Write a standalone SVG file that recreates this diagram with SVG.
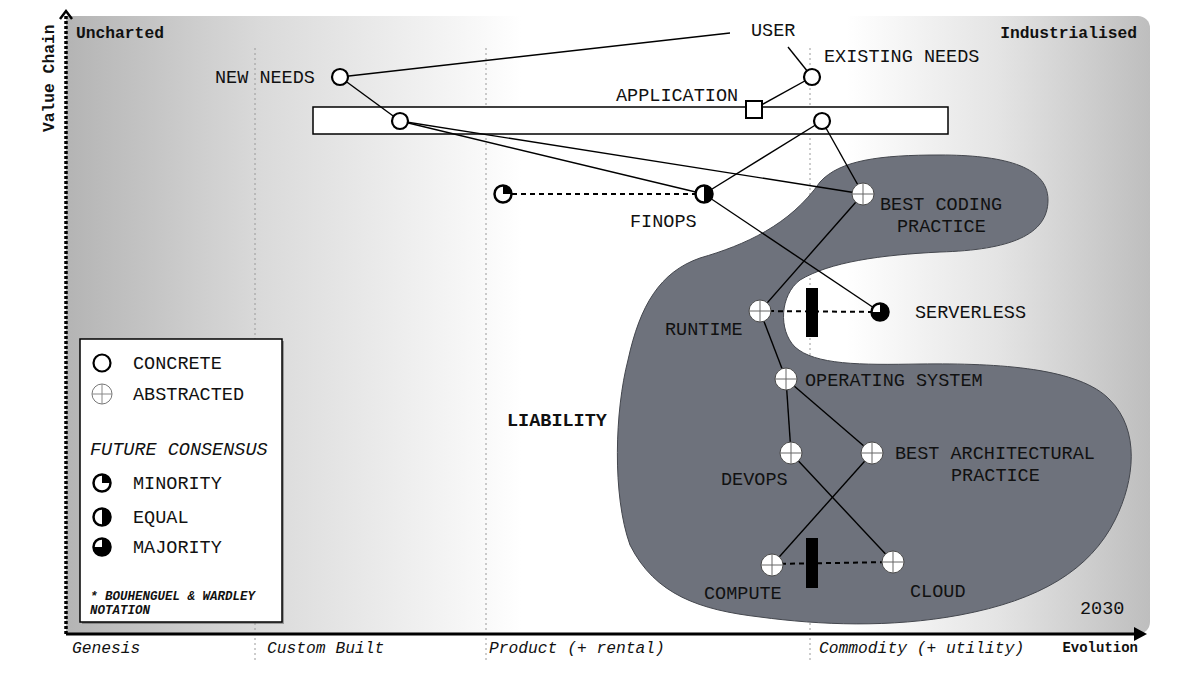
<svg xmlns="http://www.w3.org/2000/svg" xmlns:xlink="http://www.w3.org/1999/xlink" width="1200" height="675" viewBox="0 0 1200 675">
<style>
.t{font-family:"Liberation Mono","DejaVu Sans Mono",monospace;font-size:18.5px;fill:#111}
.b{font-weight:bold}
.i{font-style:italic}
.ax{font-family:"Liberation Mono","DejaVu Sans Mono",monospace;font-size:16.3px;fill:#111}
.sm{font-size:12.5px}
.ev{font-size:14px}
.grid{stroke:#9a9a9a;stroke-width:1;stroke-dasharray:2 3;fill:none}
.link{stroke:#000;stroke-width:1.4;fill:none}
.dash{stroke:#000;stroke-width:2;stroke-dasharray:5 4;fill:none}
.conc{fill:#fff;stroke:#000;stroke-width:2.2}
</style>
<defs>
<linearGradient id="bg" x1="66" y1="0" x2="1150" y2="0" gradientUnits="userSpaceOnUse">
<stop offset="0" stop-color="#b4b4b4"/>
<stop offset="0.18" stop-color="#dadada"/>
<stop offset="0.36" stop-color="#f5f5f5"/>
<stop offset="0.42" stop-color="#ffffff"/>
<stop offset="0.72" stop-color="#ffffff"/>
<stop offset="0.86" stop-color="#e4e4e4"/>
<stop offset="1" stop-color="#bebebe"/>
</linearGradient>
<g id="abs"><circle r="11" fill="#fff" stroke="#4a4a4a" stroke-width="1"/><path d="M-11 0H11M0 -11V11" stroke="#666" stroke-width="1"/></g>
<g id="min"><circle r="8.5" fill="#fff" stroke="#000" stroke-width="2.5"/><path d="M0 0V-8.5A8.5 8.5 0 0 1 8.5 0Z" fill="#000"/></g>
<g id="eq"><circle r="8.5" fill="#fff" stroke="#000" stroke-width="2.5"/><path d="M0 -8.5A8.5 8.5 0 0 1 0 8.5Z" fill="#000"/></g>
<g id="maj"><circle r="8.5" fill="#fff" stroke="#000" stroke-width="2.5"/><path d="M0 0V-8.5A8.5 8.5 0 1 1 -8.5 0Z" fill="#000"/></g>
</defs>

<!-- background panel -->
<path d="M66 16H1138A12 12 0 0 1 1150 28V622A12 12 0 0 1 1138 634H66Z" fill="url(#bg)"/>

<!-- evolution grid lines -->
<g id="grid">
<line class="grid" x1="255" y1="48" x2="255" y2="662"/>
<line class="grid" x1="486" y1="48" x2="486" y2="662"/>
<line class="grid" x1="810" y1="48" x2="810" y2="662"/>
</g>

<!-- axes -->
<g id="axes">
<line x1="66" y1="634" x2="66" y2="16" stroke="#000" stroke-width="3.5" stroke-dasharray="3 2"/>
<polyline points="60,19 66,11 72,19" fill="none" stroke="#000" stroke-width="2.5"/>
<line x1="66" y1="634" x2="1136" y2="634" stroke="#000" stroke-width="3"/>
<path d="M1134 627L1147 634L1134 641Z" fill="#000"/>
<text class="ax b" transform="translate(54 132) rotate(-90)">Value Chain</text>
<text class="ax b" x="76" y="38">Uncharted</text>
<text class="ax b" x="1137" y="38" text-anchor="end">Industrialised</text>
<text class="ax i" x="72" y="653">Genesis</text>
<text class="ax i" x="267" y="653">Custom Built</text>
<text class="ax i" x="489" y="653">Product (+ rental)</text>
<text class="ax i" x="819" y="653">Commodity (+ utility)</text>
<text class="ax b ev" x="1138" y="652" text-anchor="end">Evolution</text>
</g>

<!-- liability area -->
<g id="liability">
<path d="M820 182C840 160 880 155 940 155C1000 155 1048 165 1048 200C1048 235 1010 250 940 252C880 255 830 262 800 280C780 295 778 330 795 347C815 365 860 365 920 364C1000 363 1080 368 1110 400C1140 430 1135 480 1115 520C1090 570 1040 600 960 615C890 628 820 625 760 617C700 610 655 595 630 545C612 495 615 410 628 360C640 305 660 272 700 258C745 245 790 225 820 182Z" fill="#6e727c" stroke="#44474e" stroke-width="1"/>
<text class="t b" x="507" y="426">LIABILITY</text>
</g>

<!-- application band -->
<g id="application-band">
<rect x="313" y="107" width="635" height="27" fill="#fff" stroke="#000" stroke-width="1.5"/>
</g>

<!-- connectors -->
<g id="connectors">
<line class="link" x1="340" y1="77" x2="730" y2="33"/>
<line class="link" x1="788" y1="47" x2="812" y2="77"/>
<line class="link" x1="812" y1="77" x2="754" y2="109"/>
<line class="link" x1="340" y1="77" x2="400" y2="121"/>
<line class="link" x1="400" y1="121" x2="704" y2="194"/>
<line class="link" x1="400" y1="121" x2="863" y2="194"/>
<line class="link" x1="822" y1="121" x2="704" y2="194"/>
<line class="link" x1="822" y1="121" x2="863" y2="194"/>
<line class="link" x1="704" y1="194" x2="880" y2="312"/>
<line class="link" x1="863" y1="194" x2="760" y2="311"/>
<line class="link" x1="760" y1="311" x2="786" y2="379"/>
<line class="link" x1="786" y1="379" x2="791" y2="453"/>
<line class="link" x1="786" y1="379" x2="872" y2="453"/>
<line class="link" x1="791" y1="453" x2="893" y2="562"/>
<line class="link" x1="872" y1="453" x2="772" y2="565"/>
<line class="dash" x1="503" y1="194" x2="704" y2="194"/>
<line class="dash" x1="760" y1="311" x2="880" y2="312"/>
<line class="dash" x1="772" y1="564" x2="893" y2="562"/>
<rect x="806" y="288" width="12" height="49" fill="#000"/>
<rect x="806" y="538" width="12" height="50" fill="#000"/>
</g>

<!-- nodes -->
<g id="user"><text class="t" x="751" y="36">USER</text></g>
<g id="new-needs"><circle class="conc" cx="340" cy="77" r="8"/><text class="t" x="215" y="83">NEW NEEDS</text></g>
<g id="existing-needs"><circle class="conc" cx="812" cy="77" r="8"/><text class="t" x="824" y="62">EXISTING NEEDS</text></g>
<g id="application"><rect x="746" y="101" width="16" height="17" fill="#fff" stroke="#000" stroke-width="2"/><text class="t" x="616" y="101">APPLICATION</text></g>
<g id="app-need-left"><circle class="conc" cx="400" cy="121" r="8"/></g>
<g id="app-need-right"><circle class="conc" cx="822" cy="121" r="8"/></g>
<g id="finops-minority"><use xlink:href="#min" href="#min" x="503" y="194"/></g>
<g id="finops"><use xlink:href="#eq" href="#eq" x="704" y="194"/><text class="t" x="630" y="227">FINOPS</text></g>
<g id="best-coding-practice"><use xlink:href="#abs" href="#abs" x="863" y="194"/><text class="t" x="880" y="210">BEST CODING</text><text class="t" x="897" y="232">PRACTICE</text></g>
<g id="runtime"><use xlink:href="#abs" href="#abs" x="760" y="311"/><text class="t" x="665" y="335">RUNTIME</text></g>
<g id="serverless"><use xlink:href="#maj" href="#maj" x="880" y="312"/><text class="t" x="915" y="318">SERVERLESS</text></g>
<g id="operating-system"><use xlink:href="#abs" href="#abs" x="786" y="379"/><text class="t" x="805" y="386">OPERATING SYSTEM</text></g>
<g id="devops"><use xlink:href="#abs" href="#abs" x="791" y="453"/><text class="t" x="721" y="485">DEVOPS</text></g>
<g id="best-architectural-practice"><use xlink:href="#abs" href="#abs" x="872" y="453"/><text class="t" x="895" y="459">BEST ARCHITECTURAL</text><text class="t" x="951" y="481">PRACTICE</text></g>
<g id="compute"><use xlink:href="#abs" href="#abs" x="772" y="565"/><text class="t" x="704" y="599">COMPUTE</text></g>
<g id="cloud"><use xlink:href="#abs" href="#abs" x="893" y="562"/><text class="t" x="910" y="597">CLOUD</text></g>
<g id="year"><text class="t" x="1080" y="614">2030</text></g>

<!-- legend -->
<g id="legend">
<rect x="82" y="341" width="202" height="283" fill="#555" opacity="0.5"/>
<rect x="80" y="339" width="202" height="283" fill="#fff" stroke="#000" stroke-width="1.5"/>
<circle class="conc" cx="102" cy="363" r="8.5"/>
<text class="t" x="133" y="369">CONCRETE</text>
<circle cx="102" cy="394" r="10" fill="#fff" stroke="#777" stroke-width="1"/>
<path d="M92 394H112M102 384V404" stroke="#888" stroke-width="1"/>
<text class="t" x="133" y="400">ABSTRACTED</text>
<text class="t i" x="90" y="455">FUTURE CONSENSUS</text>
<use xlink:href="#min" href="#min" x="102" y="483"/>
<text class="t" x="133" y="489">MINORITY</text>
<use xlink:href="#eq" href="#eq" x="102" y="517"/>
<text class="t" x="133" y="523">EQUAL</text>
<use xlink:href="#maj" href="#maj" x="102" y="547"/>
<text class="t" x="133" y="553">MAJORITY</text>
<text class="t b i sm" x="90" y="600">* BOUHENGUEL &amp; WARDLEY</text>
<text class="t b i sm" x="90" y="614">NOTATION</text>
</g>
</svg>
